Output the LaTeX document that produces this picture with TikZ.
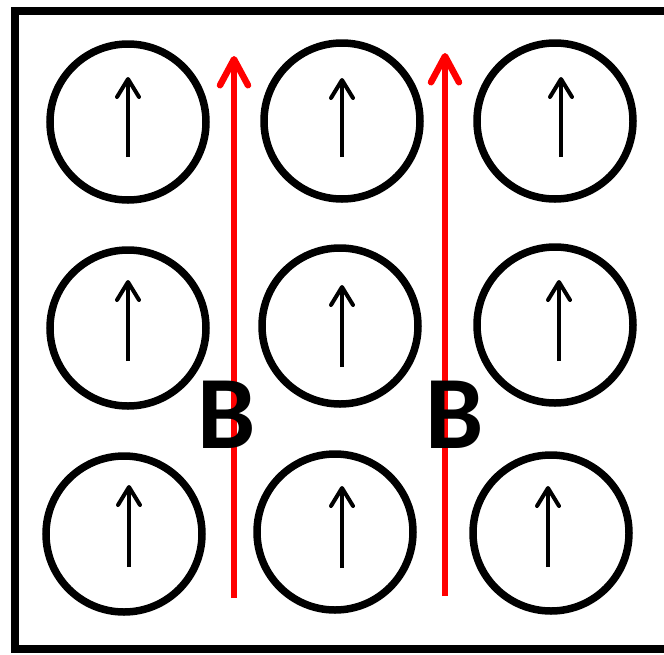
\documentclass[tikz,border=0pt]{standalone}
\usepackage{fontspec}
\newfontfamily\labelfont{Carlito}
\usetikzlibrary{arrows.meta}
\definecolor{fieldred}{HTML}{FF0000}
\definecolor{frameink}{HTML}{000000}

\begin{document}
\begin{tikzpicture}[x=1pt, y=-1pt,
  dipole/.style={draw=frameink, circle, line width=7.5pt, minimum size=156pt, inner sep=0pt},
  spin/.style={frameink, line width=4pt, -{Straight Barb[length=18pt, width=22pt, round]}},
  field/.style={fieldred, line width=6.5pt, -{Straight Barb[length=26pt, width=28pt, round]}},
  fieldlabel/.style={frameink, inner sep=0pt, font=\labelfont\bfseries\fontsize{104}{104}\selectfont}]

  \clip (0,0) rectangle (664,654);

  %% outer box, cut on the right
  \draw[frameink, line width=8pt] (15,11) rectangle (720,649);

  %% field lines
  \coordinate (f1s) at (234,598);
  \coordinate (f1e) at (234,56);
  \coordinate (f2s) at (445,596);
  \coordinate (f2e) at (445,53);
  \draw[field] (f1s) -- (f1e);
  \draw[field] (f2s) -- (f2e);

  %% dipoles: name / centre / spin x / spin top / spin bottom
  \foreach \nm/\cx/\cy/\ax/\at/\ab in {
      d11/128/122/128/77/157, d12/342/121/342/78/157, d13/555/121/561/77/157,
      d21/128/328/128/280/361, d22/340/326/342/285/367, d23/555/325/559/280/361,
      d31/124/534/129/485/567, d32/335/532/342/486/568, d33/551/533/548/486/567}{
    \node[dipole] (\nm) at (\cx,\cy) {};
    \coordinate (\nm-s) at (\ax,\ab);
    \coordinate (\nm-e) at (\ax,\at);
    \draw[spin] (\nm-s) -- (\nm-e);
  }

  %% field labels
  \node[fieldlabel] (b1) at (227,415) {B};
  \node[fieldlabel] (b2) at (455,415) {B};

\end{tikzpicture}
\end{document}
